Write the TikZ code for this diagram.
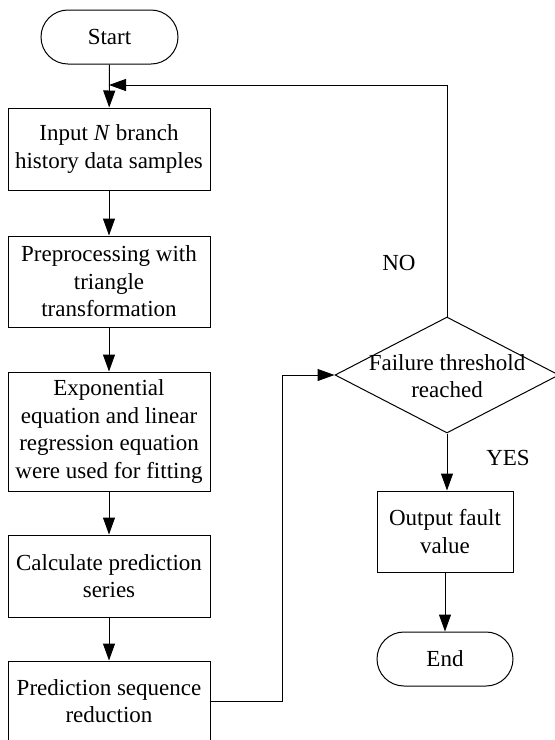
\documentclass[tikz,border=0pt]{standalone}
\usepackage{fontspec}
\setmainfont{Liberation Serif}
\usetikzlibrary{arrows.meta,shapes.geometric}
\begin{document}
\begin{tikzpicture}[x=1pt,y=-1pt,
  every node/.style={font=\fontsize{23}{27.5}\selectfont, inner sep=0pt},
  procbox/.style={draw, line width=1pt, rectangle, minimum width=202pt, align=center},
  termbox/.style={draw, line width=1pt, rectangle, rounded corners=27pt, minimum height=54pt, align=center},
  flow/.style={line width=1pt, -{Triangle[length=17pt,width=12pt]}},
  plain/.style={line width=1pt}]
\useasboundingbox (0,0) rectangle (555,740);
\node[termbox, minimum width=137pt] (start) at (109.5,37) {Start};
\node[procbox, minimum height=82pt] (b1) at (109,149) {Input \textit{N} branch\\history data samples};
\node[procbox, minimum height=91pt] (b2) at (109,281.5) {Preprocessing with\\triangle\\transformation};
\node[procbox, minimum height=119pt] (b3) at (109,431.5) {Exponential\\equation and linear\\regression equation\\were used for fitting};
\node[procbox, minimum height=82pt] (b4) at (109,576) {Calculate prediction\\series};
\node[procbox, minimum height=80pt] (b5) at (109,701) {Prediction sequence\\reduction};
\node[draw, line width=1pt, diamond, minimum width=224pt, minimum height=116pt] (dec) at (447,375) {};
\node[align=center] (dect) at (447,376) {Failure threshold\\reached};
\node[procbox, minimum width=136pt, minimum height=81pt] (out) at (445,531.5) {Output fault\\value};
\node[termbox, minimum width=136pt] (end) at (445,659) {End};
\node (no) at (399,263) {NO};
\node (yes) at (508,458) {YES};
\coordinate (join) at (109,85);
\coordinate (bend) at (282,701);
\draw[flow] (start) -- (b1);
\draw[flow] (b1) -- (b2);
\draw[flow] (b2) -- (b3);
\draw[flow] (b3) -- (b4);
\draw[flow] (b4) -- (b5);
\draw[flow] (b5.east) -- (bend) |- (dec.west);
\draw[flow] (dec.north) |- (join);
\draw[flow] (dec.south) -- (out.north -| dec.south);
\draw[flow] (out) -- (end);
\end{tikzpicture}
\end{document}
